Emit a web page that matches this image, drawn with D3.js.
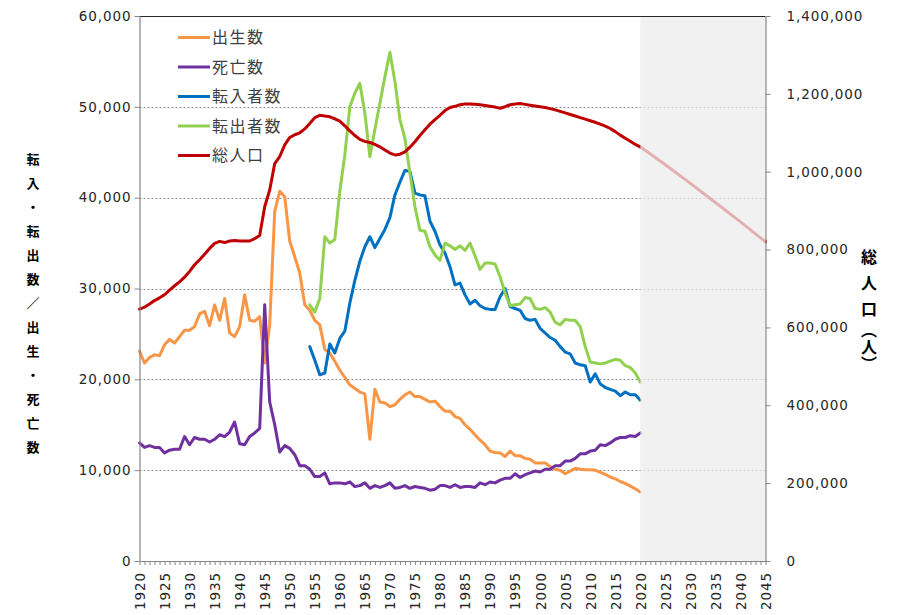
<!DOCTYPE html>
<html>
<head>
<meta charset="utf-8">
<script src="https://cdn.jsdelivr.net/npm/d3@7"></script>
<style>
  html, body { margin: 0; padding: 0; background: #fff; }
  svg { display: block; }
</style>
</head>
<body>
<svg id="chart" width="901" height="615"></svg>
<script>
// ---- data -------------------------------------------------------------
const years = d3.range(1920, 2021);            // 1920 … 2020
const migrationYears = d3.range(1954, 2021);   // 1954 … 2020
const projectionYears = [2020, 2025, 2030, 2035, 2040, 2045];
const axisYears = d3.range(1920, 2046);

const seriesNames = ["出生数", "死亡数", "転入者数", "転出者数", "総人口"];
const seriesColors = ["#F79646", "#7030A0", "#0070C0", "#92D050", "#C00000"];

const leftTicks = [0, 10000, 20000, 30000, 40000, 50000, 60000];
const rightTicks = [0, 200000, 400000, 600000, 800000, 1000000, 1200000, 1400000];

const leftTitle = "転入・転出数／出生・死亡数";
const rightTitleMain = "総人口";
const rightTitleUnit = "（人）";

// births, 1920–2020
const births = [
  23100, 21800, 22400, 22700, 22600, 23800, 24400, 24000, 24700, 25400,
  25400, 25800, 27200, 27500, 25900, 28200, 26500, 28900, 25100, 24700,
  25800, 29300, 26500, 26400, 26900, 21800, 26000, 38500, 40700, 40100,
  35200, 33500, 31700, 28200, 27600, 26500, 26000, 23300, 22900, 22000,
  21000, 20200, 19400, 19000, 18600, 18400, 13400, 18900, 17500, 17400,
  17000, 17200, 17800, 18300, 18600, 18100, 18100, 17800, 17500, 17600,
  17000, 16500, 16500, 15900, 15700, 15000, 14500, 13900, 13300, 12800,
  12100, 11950, 11900, 11500, 12100, 11600, 11600, 11300, 11200, 10800,
  10800, 10800, 10400, 10100, 10000, 9600, 9900, 10200, 10100, 10050,
  10050, 10000, 9750, 9550, 9250, 9050, 8750, 8550, 8250, 7950,
  7600
];

// deaths, 1920–2020
const deaths = [
  13000, 12500, 12700, 12500, 12500, 11900, 12200, 12300, 12300, 13700,
  12800, 13600, 13400, 13400, 13100, 13400, 13900, 13700, 14200, 15300,
  12900, 12800, 13700, 14100, 14600, 28200, 17500, 15000, 12000, 12700,
  12400, 11700, 10500, 10500, 10100, 9300, 9300, 9700, 8500, 8600,
  8600, 8500, 8700, 8200, 8300, 8600, 8000, 8300, 8100, 8300,
  8600, 8000, 8100, 8300, 8000, 8200, 8100, 8000, 7800, 7900,
  8300, 8300, 8100, 8400, 8100, 8200, 8200, 8100, 8600, 8400,
  8700, 8600, 8900, 9100, 9100, 9600, 9200, 9500, 9700, 9900,
  9800, 10100, 10100, 10500, 10500, 11000, 11000, 11300, 11800, 11800,
  12100, 12200, 12800, 12700, 13000, 13400, 13600, 13600, 13800, 13700,
  14100
];

// in-migrants, 1954–2020
const inMigrants = [
  23600, 22100, 20500, 20700, 23900, 22900,
  24500, 25300, 28400, 30900, 33000, 34600, 35700, 34500, 35500, 36500,
  37800, 40300, 41700, 43000, 42900, 40500, 40300, 40200, 37400, 36300,
  34800, 33900, 32400, 30400, 30600, 29300, 28300, 28700, 28100, 27800,
  27700, 27700, 29100, 30000, 28000, 27800, 27600, 26700, 26500, 26600,
  25600, 25100, 24600, 24300, 23600, 23000, 22800, 21800, 21600, 21500,
  19700, 20600, 19500, 19100, 18900, 18700, 18200, 18600, 18300, 18300,
  17700
];

// out-migrants, 1954–2020
const outMigrants = [
  28200, 27400, 28900, 35700, 35000, 35400,
  40700, 44700, 50000, 51500, 52600, 49300, 44500, 47500, 50400, 53300,
  56000, 52800, 48600, 46500, 42700, 39000, 36400, 36300, 34600, 33700,
  33100, 35000, 34700, 34300, 34700, 34200, 35000, 33600, 32100, 32800,
  32800, 32700, 31300, 29500, 28100, 28200, 28300, 29000, 28900, 27800,
  27700, 27900, 27400, 26300, 26000, 26600, 26500, 26500, 25800, 23600,
  21900, 21800, 21700, 21800, 22000, 22200, 22100, 21500, 21300, 20700,
  19700
];

// total population, 1920–2020
const population = [
  647000, 652000, 660000, 669000, 676000, 684000, 696000, 707000, 717000, 729000,
  744000, 761000, 774000, 788000, 803000, 816000, 821000, 818000, 822000, 823000,
  822000, 822000, 822000, 828000, 836000, 910000, 953000, 1021000, 1039000, 1069000,
  1088000, 1095000, 1100000, 1110000, 1124000, 1139000, 1145000, 1143000, 1141000, 1136000,
  1130000, 1118000, 1105000, 1093000, 1083000, 1078000, 1075000, 1070000, 1064000, 1056000,
  1048000, 1043000, 1045000, 1051000, 1063000, 1077000, 1093000, 1108000, 1122000, 1134000,
  1145000, 1157000, 1165000, 1168000, 1172000, 1174000, 1174000, 1173000, 1172000, 1170000,
  1168000, 1166000, 1163000, 1167000, 1172000, 1174000, 1175000, 1173000, 1171000, 1169000,
  1167000, 1165000, 1162000, 1159000, 1155000, 1151000, 1147000, 1143000, 1139000, 1135000,
  1131000, 1127000, 1122000, 1117000, 1111000, 1103000, 1094000, 1086000, 1078000, 1070000,
  1064000
];

// projected population, 2020–2045
const projection = [1064000, 1018000, 970000, 921000, 871000, 820000];

// ---- layout -------------------------------------------------------------
const svg = d3.select("#chart");
const plot = { left: 139.5, right: 765.5, top: 16, bottom: 561 };

const x = d3.scaleLinear().domain([1920, 2045]).range([plot.left, plot.right]);
const yL = d3.scaleLinear().domain([0, 60000]).range([plot.bottom, plot.top]);
const yR = d3.scaleLinear().domain([0, 1400000]).range([plot.bottom, plot.top]);

const tickFont = "'DejaVu Sans', Verdana, sans-serif";
const jpFont = "'Noto Sans CJK JP', 'Noto Sans', sans-serif";
const axisGray = "#868686";

// dotted horizontal gridlines
svg.append("g")
  .selectAll("line")
  .data(leftTicks.filter(v => v > 0 && v < 60000))
  .join("line")
  .attr("x1", plot.left).attr("x2", plot.right)
  .attr("y1", d => Math.round(yL(d)) + 0.5).attr("y2", d => Math.round(yL(d)) + 0.5)
  .attr("stroke", "#8f8f8f")
  .attr("stroke-width", 1)
  .attr("stroke-dasharray", "2,2");

// top border
svg.append("line")
  .attr("x1", plot.left).attr("x2", plot.right)
  .attr("y1", plot.top + 0.5).attr("y2", plot.top + 0.5)
  .attr("stroke", "#262626").attr("stroke-width", 1);

// series lines
const lineL = d3.line().x(d => x(d[0])).y(d => yL(d[1]));
const lineR = d3.line().x(d => x(d[0])).y(d => yR(d[1]));

function drawLine(gen, xs, vs, color) {
  svg.append("path")
    .datum(xs.map((yr, i) => [yr, vs[i]]))
    .attr("d", gen)
    .attr("fill", "none")
    .attr("stroke", color)
    .attr("stroke-width", 3)
    .attr("stroke-linejoin", "round")
    .attr("stroke-linecap", "round");
}

drawLine(lineR, projectionYears, projection, seriesColors[4]);
drawLine(lineL, years, births, seriesColors[0]);
drawLine(lineL, years, deaths, seriesColors[1]);
drawLine(lineL, migrationYears, inMigrants, seriesColors[2]);
drawLine(lineL, migrationYears, outMigrants, seriesColors[3]);
drawLine(lineR, years, population, seriesColors[4]);

// translucent band over the projection period
svg.append("rect")
  .attr("x", x(2020)).attr("y", plot.top + 1)
  .attr("width", x(2045) - x(2020)).attr("height", plot.bottom - plot.top - 1)
  .attr("fill", "rgb(236,236,236)")
  .attr("fill-opacity", 0.75);

// ---- axes ---------------------------------------------------------------
function styleAxis(g) {
  g.select(".domain").attr("stroke", axisGray).attr("stroke-width", 1.2);
  g.selectAll(".tick line").attr("stroke", axisGray);
  g.selectAll("text")
    .attr("fill", "#262626")
    .style("font-family", tickFont)
    .style("font-size", "13.5px")
    .style("letter-spacing", "0.9px");
}

const axL = svg.append("g")
  .attr("transform", `translate(${plot.left},0)`)
  .call(d3.axisLeft(yL).tickValues(leftTicks).tickFormat(d3.format(",")).tickSize(5).tickSizeOuter(0).tickPadding(3));
styleAxis(axL);

const axR = svg.append("g")
  .attr("transform", `translate(${plot.right},0)`)
  .call(d3.axisRight(yR).tickValues(rightTicks).tickFormat(d3.format(",")).tickSize(5).tickSizeOuter(0).tickPadding(16));
styleAxis(axR);

const axB = svg.append("g")
  .attr("transform", `translate(0,${plot.bottom})`)
  .call(d3.axisBottom(x).tickValues(axisYears)
        .tickFormat(d => d % 5 === 0 ? d : "").tickSize(4).tickSizeOuter(0));
styleAxis(axB);
axB.selectAll(".tick text")
  .attr("transform", "rotate(-90)")
  .attr("x", -11)
  .attr("y", 0)
  .attr("dy", "0.36em")
  .attr("text-anchor", "end");

// ---- axis titles --------------------------------------------------------
svg.append("text")
  .attr("x", 33).attr("y", 153)
  .style("writing-mode", "vertical-rl")
  .style("font-family", jpFont)
  .style("font-size", "13px")
  .style("font-weight", "bold")
  .style("letter-spacing", "11px")
  .attr("fill", "#000")
  .text(leftTitle);

svg.append("text")
  .attr("x", 869).attr("y", 249)
  .style("writing-mode", "vertical-rl")
  .style("font-family", jpFont)
  .style("font-size", "16px")
  .style("font-weight", "bold")
  .style("letter-spacing", "10px")
  .attr("fill", "#000")
  .text(rightTitleMain);

svg.append("text")
  .attr("x", 869).attr("y", 330)
  .style("writing-mode", "vertical-rl")
  .style("font-family", jpFont)
  .style("font-size", "16px")
  .style("font-weight", "bold")
  .style("letter-spacing", "1px")
  .style("font-feature-settings", "'vhal' 1")
  .attr("fill", "#000")
  .text(rightTitleUnit);

// ---- legend -------------------------------------------------------------
const legend = svg.append("g");
const legendRows = legend.selectAll("g")
  .data(seriesNames)
  .join("g")
  .attr("transform", (d, i) => `translate(178,${37.5 + i * 29.5})`);
legendRows.append("line")
  .attr("x1", 0).attr("x2", 32)
  .attr("stroke", (d, i) => seriesColors[i])
  .attr("stroke-width", 3);
legendRows.append("text")
  .attr("x", 34).attr("y", 0)
  .attr("dy", "0.36em")
  .attr("fill", "#404040")
  .style("font-family", jpFont)
  .style("font-size", "16px")
  .style("letter-spacing", "1.5px")
  .text(d => d);
</script>
</body>
</html>
